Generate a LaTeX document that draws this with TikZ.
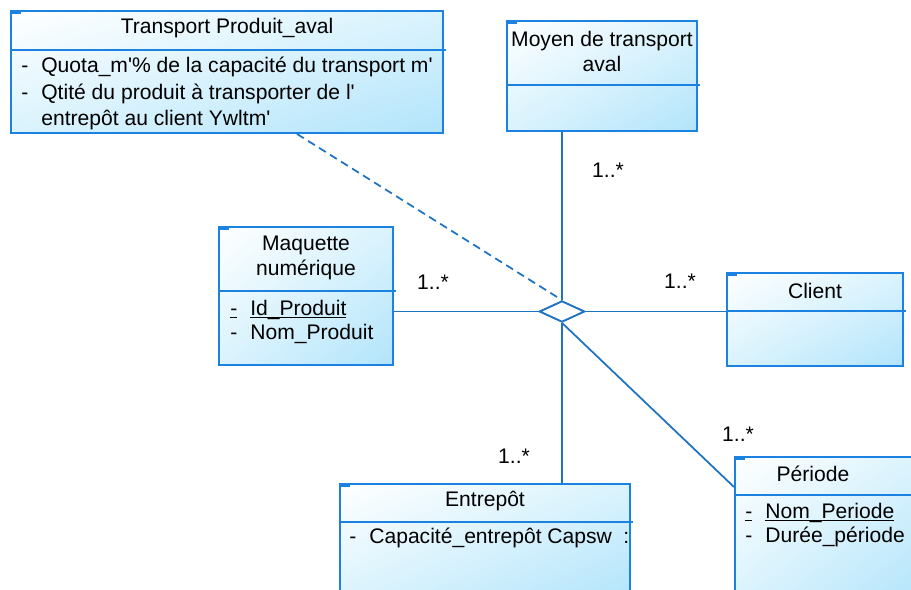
\documentclass[tikz,border=0pt]{standalone}
\usepackage{fontspec}
\setmainfont{Liberation Sans}
\usetikzlibrary{shapes.geometric,shadings,positioning}
\definecolor{umlblue}{RGB}{28,130,225}
\definecolor{linkblue}{RGB}{30,115,195}
\definecolor{fillmid}{RGB}{218,243,253}
\definecolor{filldark}{RGB}{178,228,251}
\newcommand{\ulkey}[1]{\setbox0\hbox{#1}\rlap{\rule[-1.6pt]{\wd0}{0.7pt}}\box0}
\newcommand{\attr}[1]{\makebox[0.4cm][l]{-}#1}
\newcommand{\keyattr}[1]{\makebox[0.4cm][l]{\ulkey{-}}\ulkey{#1}}

\begin{document}
\begin{tikzpicture}[
  x=0.02cm, y=-0.02cm,
  font=\fontsize{12}{14.2}\selectfont,
  cls/.style  = {rectangle, draw=umlblue, line width=1.1pt, inner sep=0pt,
                 upper left=white, upper right=fillmid,
                 lower left=fillmid, lower right=filldark},
  ttl/.style  = {inner sep=0pt, align=center},
  att/.style  = {inner sep=0pt, anchor=west},
  sep/.style  = {draw=umlblue, line width=1.1pt},
  link/.style = {draw=linkblue, line width=1pt},
  mult/.style = {inner sep=0pt},
  rel/.style  = {diamond, draw=linkblue, line width=1pt, fill=white, aspect=2,
                 minimum width=0.9cm, minimum height=0.42cm, inner sep=0pt}
]
\path[use as bounding box] (0,0) rectangle (911,589);
\clip (0,0) rectangle (911,589);

%% Classes
\node[cls, minimum width=8.64cm, minimum height=2.44cm] (transport) at (227,72)    {};
\node[cls, minimum width=3.8cm,  minimum height=2.2cm]  (moyen)     at (602,76)    {};
\node[cls, minimum width=3.48cm, minimum height=2.76cm] (maquette)  at (306,296)   {};
\node[cls, minimum width=3.52cm, minimum height=1.86cm] (client)    at (815,319.5) {};
\node[cls, minimum width=5.8cm,  minimum height=2.32cm] (entrepot)  at (485,542)   {};
\node[cls, minimum width=3.8cm,  minimum height=2.86cm] (periode)   at (830,528.5) {};

%% Compartment lines
\draw[sep] (transport.west |- 0,50)  -- ([xshift=0.04cm]transport.east |- 0,50);
\draw[sep] (moyen.west |- 0,85)      -- ([xshift=0.04cm]moyen.east |- 0,85);
\draw[sep] (maquette.west |- 0,291)  -- ([xshift=0.04cm]maquette.east |- 0,291);
\draw[sep] (client.west |- 0,311)    -- ([xshift=0.04cm]client.east |- 0,311);
\draw[sep] (entrepot.west |- 0,522)  -- ([xshift=0.04cm]entrepot.east |- 0,522);
\draw[sep] (periode.west |- 0,495)   -- (periode.east |- 0,495);

\foreach \n in {transport,moyen,maquette,client,entrepot,periode}
  \draw[sep, line width=0.8pt] ([xshift=0.02cm,yshift=-0.06cm]\n.north west) -- ++(10,0);

%% Titles
\node[ttl] (transportT) at (227,28)    {Transport Produit\_aval};
\node[ttl] (moyenT)     at (602,51)    {Moyen de transport\\aval};
\node[ttl] (maquetteT)  at (306,257.5) {Maquette\\numérique};
\node[ttl] (clientT)    at (815,291)   {Client};
\node[ttl] (entrepotT)  at (485,501)   {Entrepôt};
\node[ttl] (periodeT)   at (813,474)   {Période};

%% Attributes
\node[att] (quota)  at (21,67)   {\attr{Quota\_m\textquotesingle\% de la capacité du transport m\textquotesingle}};
\node[att] (qtite)  at (21,94)   {\attr{Qtité du produit à transporter de l\textquotesingle}};
\node[att] (qtite2) at (41,120)  {entrepôt au client Ywltm\textquotesingle};
\node[att, anchor=base west] (idprod) at (230,315) {\keyattr{Id\_Produit}};
\node[att] (nomprod) at (230,334) {\attr{Nom\_Produit}};
\node[att] (capa)   at (349,538) {\attr{Capacité\_entrepôt Capsw}};
\node[att] (capaC)  at (623,538) {:};
\node[att, anchor=base west] (nomper) at (745,518) {\keyattr{Nom\_Periode}};
\node[att] (duree)  at (745,537) {\attr{Durée\_période}};

%% Association
\node[rel] (rel) at (562,311.5) {};

\draw[link] (maquette.east |- rel.west) -- (rel.west);
\draw[link] (rel.east) -- (rel.east -| client.west);
\draw[link] (rel.north |- moyen.south) -- (rel.north);
\draw[link] (rel.south) -- (rel.south |- entrepot.north);
\draw[link] (rel.south) -- ([yshift=-0.62cm]periode.north west);
\draw[link, dash pattern=on 0.16cm off 0.1cm] ([xshift=1.4cm]transport.south) -- (rel.north);
\node[rel] at (rel) {};

%% Multiplicities
\node[mult] (mMoyen)    at (608,170) {1..*};
\node[mult] (mMaquette) at (433,282) {1..*};
\node[mult] (mClient)   at (680,281) {1..*};
\node[mult] (mEntrepot) at (514,456) {1..*};
\node[mult] (mPeriode)  at (738,434) {1..*};
\end{tikzpicture}
\end{document}
